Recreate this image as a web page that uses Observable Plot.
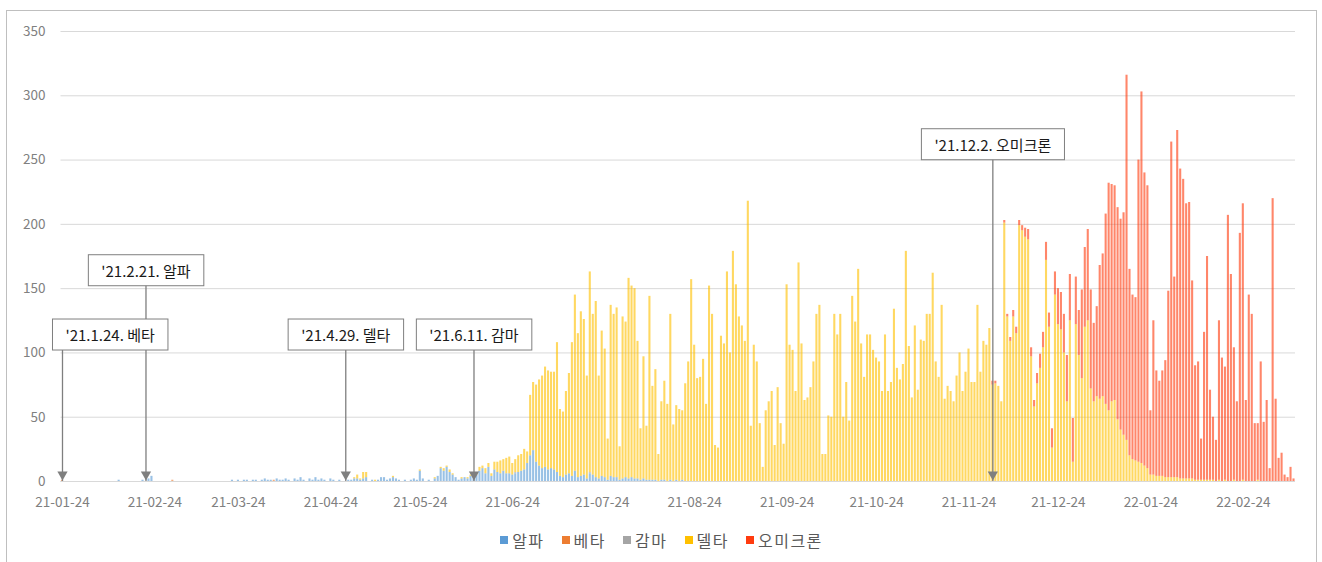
<!DOCTYPE html>
<html><head><meta charset="utf-8">
<script src="https://cdn.jsdelivr.net/npm/d3@7"></script>
<script src="https://cdn.jsdelivr.net/npm/@observablehq/plot@0.6"></script>
<style>
body{margin:0;background:#fff;}
#frame{position:absolute;left:6px;top:10px;width:1311px;height:560px;border:1px solid #bfbfbf;box-sizing:border-box;background:#fff;overflow:hidden;}
#frame svg.chart{display:block;}
#legend{display:flex;justify-content:center;align-items:center;height:38px;}
#legend > div{font-family:'Noto Sans CJK KR',sans-serif !important;font-size:16px !important;letter-spacing:1.5px;color:#595959 !important;min-height:0 !important;margin:0 !important;}
#legend span{margin-right:17px !important;}
#legend span:last-child{margin-right:0 !important;}
#legend span > svg{margin-right:4px !important;}
</style></head><body><div id="frame"></div>
<script>
// ---- data ----
const firstDay = "2021-01-24";
const dayCount = 414;
const variants = ["알파", "베타", "감마", "델타", "오미크론"];
const variantColors = ["#5b9bd5", "#ed7d31", "#a5a5a5", "#ffc000", "#ff3b0f"];

// daily counts of alpha from 2021-01-24
const alphaStart = "2021-01-24";
const alpha = [
  0,0,0,0,0,0,0,0,0,0, 0,0,0,0,0,0,0,0,0,1, 0,0,0,0,0,0,0,1,0,2,
  4,0,0,0,0,0,0,0,0,0, 0,0,0,0,0,0,0,0,0,0, 0,0,0,0,0,0,0,1,0,1,
  0,1,1,0,1,1,0,1,2,1, 1,0,2,1,1,2,1,0,2,1, 3,1,0,2,1,3,1,2,1,0,
  2,1,0,1,0,0,1,1,2,2, 1,2,3,0,1,0,1,3,3,1, 2,3,2,1,0,1,0,1,2,1,
  8,2,0,1,0,2,4,10,8,11, 7,5,3,1,2,3,2,4,3,5, 8,10,6,11,4,9,7,6,8,6,
  6,5,6,7,8,9,14,20,24,15, 12,10,11,9,10,9,7,4,3,5, 6,4,8,3,4,5,2,6,5,3,
  2,4,3,1,4,3,3,1,2,3, 2,3,2,2,1,2,1,1,1,1, 0,1,1,0,1,0,1,0,1
];
const betaDates = ["2021-01-24", "2021-03-02", "2021-04-05"];
const betaValues = [1, 1, 1];
const gammaDates = ["2021-06-11", "2021-06-25", "2021-07-20"];
const gammaValues = [1, 1, 1];

// daily counts of delta from 2021-04-29
const deltaStart = "2021-04-29";
const delta = [
  0,0,0,1,3,1,5,4,0,0, 1,0,0,0,0,0,1,0,0,0, 0,0,0,0,0,1,0,0,0,0,
  1,0,1,2,1,2,1,0,0,1, 0,1,1,1,2,3,2,4,3,2, 6,8,10,9,12,13,9,10,13,13,
  16,9,47,53,60,67,72,78,77,75, 76,101,52,51,65,78,104,137,112,128,
  121,80,156,125,137,80,113,100,32,133, 127,132,26,126,121,156,149,148,107,40,
  95,42,143,73,86,21,61,77,60,129, 44,58,56,54,76,93,157,106,80,81,
  95,60,152,130,28,26,113,107,163,100, 179,153,128,121,109,218,43,106,93,45,
  11,55,62,70,28,73,45,29,153,106, 102,70,170,107,63,65,73,93,130,137,
  21,21,51,50,130,114,130,50,77,47, 144,124,165,107,81,114,114,102,96,93,
  70,114,70,77,134,88,79,91,179,105, 65,121,71,110,109,130,130,162,93,81,
  137,64,74,70,62,82,100,70,85,103, 77,77,137,85,109,106,119,75,76,74,
  62,201,128,109,128,115,199,195,190,188, 97,58,76,88,104,172,120,26,145,122,
  118,100,62,125,15,122,98,80,120,125, 72,62,66,64,66,60,55,62,63,48,
  40,36,32,20,17,16,15,14,12,10, 5,5,4,4,4,3,3,3,3,3,
  2,2,2,2,2,1,1,1,1,1, 1,1,0,1,0,1,0,0,1,0, 0,1,0,0,0,0,1,0,0,0,
  0,0,0,0,0,0,0,0,0
];

// daily counts of omicron from 2021-12-02
const omicronStart = "2021-12-02";
const omicron = [
  3,2,0,0,2,2,3,5,5,4, 4,7,8,7,5,8,11,12,14,11,
  15,18,28,29,30,36,36,34,37,35, 69,62,71,77,61,70,104,111,148,177,
  169,167,165,164,173,284,145,128,127,235, 289,228,220,50,120,82,74,82,91,145,
  261,156,270,241,233,214,215,154,89,92, 32,115,174,70,49,32,124,96,88,207,
  161,103,62,193,215,63,145,130,45,44, 93,46,63,10,220,64,18,22,5,3,
  11,2
];

const tickDates = ["2021-01-24","2021-02-24","2021-03-24","2021-04-24","2021-05-24","2021-06-24",
  "2021-07-24","2021-08-24","2021-09-24","2021-10-24","2021-11-24","2021-12-24","2022-01-24","2022-02-24"];
const yTicks = [0, 50, 100, 150, 200, 250, 300, 350];

const annoDates = ["2021-01-24", "2021-02-21", "2021-04-29", "2021-06-11", "2021-12-02"];
const annoLabels = ["'21.1.24. 베타", "'21.2.21. 알파", "'21.4.29. 델타", "'21.6.11. 감마", "'21.12.2. 오미크론"];
const annoLevels = [113, 163, 113, 113, 261];

// ---- build table ----
const fmt = d3.utcFormat("%Y-%m-%d");
const t0 = new Date(firstDay + "T00:00:00Z");
const days = d3.utcDay.range(t0, d3.utcDay.offset(t0, dayCount)).map(fmt);
const dayIndex = new Map(days.map((k, i) => [k, i]));

const rows = [];
function addSeries(name, start, values) {
  const s = dayIndex.get(start);
  values.forEach((v, i) => { if (v > 0) rows.push({date: days[s + i], variant: name, value: v}); });
}
function addSparse(name, dates, values) {
  dates.forEach((d, i) => { if (values[i] > 0) rows.push({date: d, variant: name, value: values[i]}); });
}
addSeries("알파", alphaStart, alpha);
addSparse("베타", betaDates, betaValues);
addSparse("감마", gammaDates, gammaValues);
addSeries("델타", deltaStart, delta);
addSeries("오미크론", omicronStart, omicron);

const annos = annoDates.map((d, i) => ({date: d, label: annoLabels[i], level: annoLevels[i]}));

const plot = Plot.plot({
  width: 1308,
  height: 510,
  marginLeft: 53.5,
  marginRight: 20,
  marginTop: 20,
  marginBottom: 40,
  style: {fontFamily: "'Noto Sans CJK KR', sans-serif", fontSize: "13.5px", color: "#808080", background: "#fff", overflow: "visible"},
  x: {type: "band", domain: days, paddingInner: 0.3, paddingOuter: 0.15, ticks: tickDates,
      tickFormat: d => d.slice(2), tickSize: 0, tickPadding: 16, label: null},
  y: {domain: [0, 350], ticks: yTicks, tickSize: 0, tickPadding: 15.5, label: null},
  color: {domain: variants, range: variantColors},
  marks: [
    Plot.gridY(yTicks, {stroke: "#d9d9d9", strokeOpacity: 1}),
    Plot.barY(rows, {x: "date", y: "value", fill: "variant", fillOpacity: 0.62}),
    Plot.ruleY([0], {stroke: "#d9d9d9"}),
    Plot.ruleX(annos, {x: "date", y1: "level", y2: 0, stroke: "#7f7f7f", strokeWidth: 1.3}),
    Plot.dot(annos, {x: "date", y: 0, symbol: "triangle", rotate: 180, r: 3.8, fill: "#7f7f7f", dy: -7}),
    Plot.text(annos, {filter: (d, i) => i === 0, x: "date", y: "level", text: "label", textAnchor: "start", dx: 3,
      fontSize: 15, fill: "#1a1a1a"}),
    Plot.text(annos, {filter: (d, i) => i > 0, x: "date", y: "level", text: "label", textAnchor: "middle",
      fontSize: 15, fill: "#1a1a1a"})
  ]
});
plot.classList.add("chart");

const frame = document.getElementById("frame");
frame.append(plot);
const legendWrap = document.createElement("div");
legendWrap.id = "legend";
legendWrap.append(plot.legend("color", {legend: "swatches", swatchSize: 8}));
frame.append(legendWrap);

// label boxes behind annotation texts
d3.select(plot).selectAll('g[aria-label="text"] text').each(function () {
  const b = this.getBBox();
  const cy = b.y + b.height / 2;
  const r = d3.select(this.parentNode).insert("rect", () => this)
    .attr("x", b.x - 13).attr("y", cy - 15.5)
    .attr("width", b.width + 26).attr("height", 31)
    .attr("fill", "#fff").attr("stroke", "#7f7f7f").attr("stroke-width", 1);
  const tr = this.getAttribute("transform");
  if (tr) r.attr("transform", tr);
});
</script></body></html>
